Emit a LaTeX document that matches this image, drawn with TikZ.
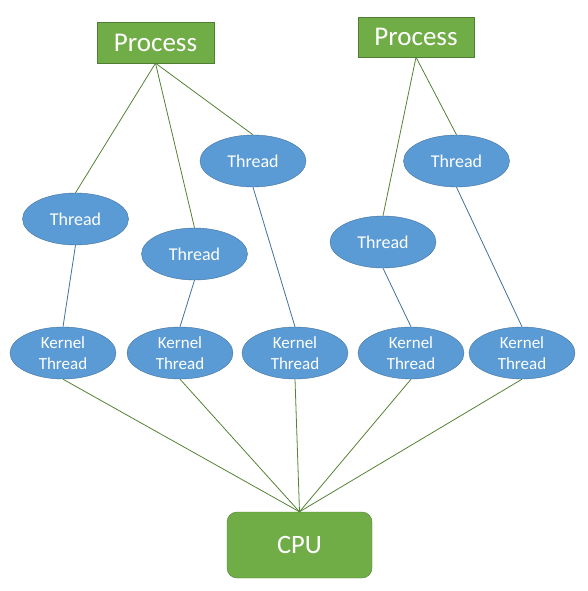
\documentclass[tikz,border=0pt]{standalone}
\usepackage{fontspec}
\setmainfont{Carlito}
\usetikzlibrary{shapes.geometric}
\definecolor{gfill}{HTML}{70AD47}
\definecolor{gdraw}{HTML}{507E32}
\definecolor{bfill}{HTML}{5B9BD5}
\definecolor{bdraw}{HTML}{41719C}
\definecolor{gline}{HTML}{548235}
\begin{document}
\begin{tikzpicture}[x=1pt,y=-1pt,
  procbox/.style={draw=gdraw,fill=gfill,text=white,minimum width=117pt,minimum height=41pt,inner sep=0pt,font=\fontsize{27}{30}\selectfont},
  cpubox/.style={draw=gdraw,fill=gfill,text=white,rounded corners=10pt,minimum width=145pt,minimum height=66pt,inner sep=0pt,font=\fontsize{26.5}{30}\selectfont},
  thr/.style={ellipse,draw=bdraw,fill=bfill,text=white,minimum width=106pt,minimum height=52pt,inner sep=0pt,font=\fontsize{18}{20}\selectfont},
  kthr/.style={thr,align=center,font=\fontsize{17}{21}\selectfont},
  gl/.style={draw=gline,line width=0.8pt},
  bl/.style={draw=bdraw,line width=0.8pt}]
\useasboundingbox (0,0) rectangle (587,591);
\node[procbox] (p1) at (155.5,42.5) {Process};
\node[procbox,minimum width=116pt,minimum height=40pt] (p2) at (416,37) {Process};
\node[thr] (t1) at (75.5,219) {Thread};
\node[thr] (t2) at (194.5,254) {Thread};
\node[thr] (t3) at (253,161) {Thread};
\node[thr] (t4) at (383,242) {Thread};
\node[thr] (t5) at (456.5,161) {Thread};
\node[kthr] (k1) at (63,353) {Kernel\\Thread};
\node[kthr] (k2) at (180,353) {Kernel\\Thread};
\node[kthr] (k3) at (295,353) {Kernel\\Thread};
\node[kthr] (k4) at (411,353) {Kernel\\Thread};
\node[kthr] (k5) at (522,353) {Kernel\\Thread};
\node[cpubox] (cpu) at (299.5,545) {CPU};
\draw[gl] (p1.south) -- (t1.north);
\draw[gl] (p1.south) -- (t2.north);
\draw[gl] (p1.south) -- (t3.north);
\draw[gl] (p2.south) -- (t4.north);
\draw[gl] (p2.south) -- (t5.north);
\draw[bl] (t1.south) -- (k1.north);
\draw[bl] (t2.south) -- (k2.north);
\draw[bl] (t3.south) -- (k3.north);
\draw[bl] (t4.south) -- (k4.north);
\draw[bl] (t5.south) -- (k5.north);
\foreach \k in {k1,k2,k3,k4,k5} \draw[gl] (\k.south) -- (cpu.north);
\end{tikzpicture}
\end{document}
